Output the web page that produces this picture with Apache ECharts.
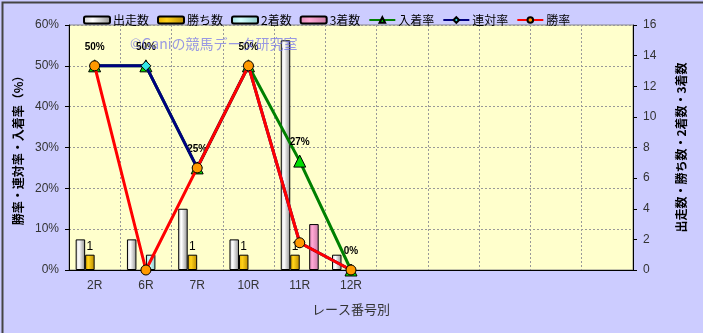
<!DOCTYPE html>
<html><head><meta charset="utf-8">
<script src="https://cdn.jsdelivr.net/npm/echarts@6/dist/echarts.min.js"></script>
<style>html,body{margin:0;padding:0;background:#CCCCFF;}#c{width:703px;height:333px;}</style>
</head><body><div id="c"></div>
<script>
var categories = ['2R','6R','7R','10R','11R','12R','','','','',''];
var starters = [2,2,4,2,15,1];
var wins = [1,0,1,1,1,0];
var seconds = [0,1,0,0,0,0];
var thirds = [0,0,0,0,3,0];
var placeRate = [50,50,25,50,26.67,0];
var quinellaRate = [50,50,25,50,6.67,0];
var winRate = [50,0,25,50,6.67,0];
var leftTicks = [0,10,20,30,40,50,60];
var rightTicks = [0,2,4,6,8,10,12,14,16];

function grad(a,b,c){return {type:'linear',x:0,y:0,x2:1,y2:0,colorStops:[{offset:0,color:a},{offset:0.35,color:b},{offset:1,color:c}]};}
function hideZero(arr){return arr.map(function(v){return v===0?'-':v;});}
var chart = echarts.init(document.getElementById('c'));
var jp = '"Noto Sans CJK JP", sans-serif';
var lat = '"Liberation Sans", Arial, sans-serif';
function barS(name,data,col){
  return {name:name,type:'bar',yAxisIndex:1,data:hideZero(data),barGap:'0%',barCategoryGap:'26%',
    itemStyle:{color:col,borderColor:'#000',borderWidth:1}};
}
var s2 = barS('勝ち数',wins,grad('#e6b000','#ffd21a','#b88a00'));
s2.label={show:true,position:'top',distance:2,color:'#000',fontSize:12,fontFamily:lat};
function lineS(name,data,col,sym,symCol,sz){
  return {name:name,type:'line',data:data,yAxisIndex:0,symbol:sym,symbolSize:sz,
    lineStyle:{color:col,width:3},itemStyle:{color:symCol,borderColor:'#000',borderWidth:1},emphasis:{disabled:true}};
}
var l1 = lineS('入着率',placeRate,'#008000','triangle','#00dd00',12);
l1.label={show:true,position:'top',distance:7,color:'#000',fontSize:10,fontWeight:'bold',fontFamily:lat,formatter:function(p){return Math.round(p.value)+'%';}};
l1.z=3;
var l2 = lineS('連対率',quinellaRate,'#000080','diamond','#33e6e6',10); l2.z=4;
var l3 = lineS('勝率',winRate,'#ff0000','circle','#ff9900',10); l3.z=5;

chart.setOption({
  animation:false,
  backgroundColor:'#CCCCFF',
  textStyle:{fontFamily:jp},
  legend:{left:78,top:9,itemWidth:26,itemHeight:7,itemGap:8,textStyle:{fontSize:12,color:'#000',fontFamily:jp,padding:[0,0,0,-2]},
    data:['出走数','勝ち数','2着数','3着数','入着率','連対率','勝率']},
  grid:{left:69,right:70,top:25,bottom:63,show:true,backgroundColor:'#FFFFCC',borderColor:'#888',borderWidth:1},
  xAxis:{type:'category',data:categories,name:'レース番号別',nameLocation:'middle',nameGap:33,
    nameTextStyle:{fontSize:13,color:'#333',fontFamily:jp},
    axisLine:{lineStyle:{color:'#000'}},axisTick:{show:false},
    axisLabel:{color:'#333',fontSize:12,fontFamily:lat,margin:10},
    splitLine:{show:true,lineStyle:{color:'#999',type:[2,2]}}},
  yAxis:[
    {type:'value',min:0,max:60,interval:10,name:'勝率・連対率・入着率（%）',nameLocation:'middle',nameGap:44,nameRotate:90,
     nameTextStyle:{fontSize:12,color:'#000',fontFamily:jp,fontWeight:'bold'},
     axisLine:{show:true,lineStyle:{color:'#000'}},axisTick:{show:true,length:4,lineStyle:{color:'#000'}},
     axisLabel:{color:'#333',fontSize:12,fontFamily:lat,margin:10,formatter:'{value}%'},
     splitLine:{show:true,lineStyle:{color:'#999',type:[2,2]}}},
    {type:'value',min:0,max:16,interval:2,name:'出走数・勝ち数・2着数・3着数',nameLocation:'middle',nameGap:42,nameRotate:90,
     nameTextStyle:{fontSize:12,color:'#000',fontFamily:jp,fontWeight:'bold'},
     axisLine:{show:true,lineStyle:{color:'#000'}},axisTick:{show:true,length:4,lineStyle:{color:'#000'}},
     axisLabel:{color:'#333',fontSize:12,fontFamily:lat,margin:10},
     splitLine:{show:false}}
  ],
  graphic:[
    {type:'text',left:130,top:37,z:100,style:{text:'©Ganiの競馬データ研究室',fill:'rgba(110,110,235,0.7)',font:'14px "Noto Sans CJK JP"'}},
    {type:'rect',left:0,top:0,shape:{x:0,y:0,width:702,height:332},style:{fill:'none',stroke:'#444',lineWidth:2},silent:true}
  ],
  series:[
    barS('出走数',starters,grad('#d0d0d0','#ffffff','#909090')),
    s2,
    barS('2着数',seconds,grad('#a0dede','#d4ffff','#8cc8c8')),
    barS('3着数',thirds,grad('#e08cb8','#ffa8d4','#c87aa4')),
    l1,l2,l3
  ]
});
</script></body></html>
